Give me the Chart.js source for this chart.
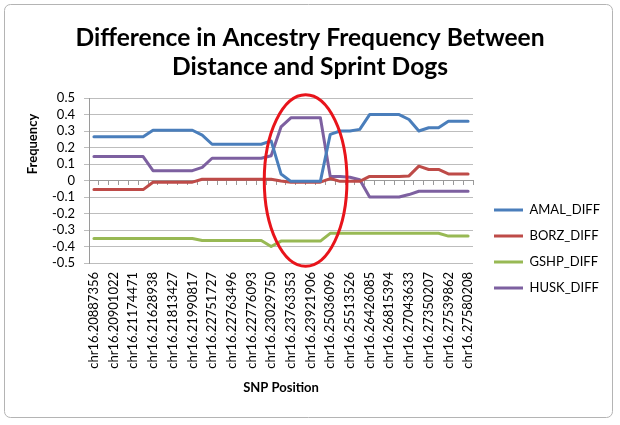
<!DOCTYPE html>
<html>
<head>
<meta charset="utf-8">
<script src="https://cdn.jsdelivr.net/npm/chart.js@4.4.1/dist/chart.umd.min.js"></script>
<style>
  html, body { margin: 0; padding: 0; background: #ffffff; }
  #wrap { width: 620px; height: 425px; position: relative; }
</style>
</head>
<body>
<div id="wrap"><canvas id="chart" width="620" height="425"></canvas></div>
<script>
// ---- data ----
const tickLabels = [
  'chr16.20887356', 'chr16.20901022', 'chr16.21174471', 'chr16.21628938',
  'chr16.21813427', 'chr16.21990817', 'chr16.22751727', 'chr16.22763496',
  'chr16.22776093', 'chr16.23029750', 'chr16.23763353', 'chr16.23921906',
  'chr16.25036096', 'chr16.25513526', 'chr16.26426085', 'chr16.26815394',
  'chr16.27043633', 'chr16.27350207', 'chr16.27539862', 'chr16.27580208'
];
// 39 SNP positions; only every other one is labelled in the source chart
const categories = [];
for (let i = 0; i < 39; i++) categories.push(i % 2 === 0 ? tickLabels[i / 2] : '');

const seriesNames = ['AMAL_DIFF', 'BORZ_DIFF', 'GSHP_DIFF', 'HUSK_DIFF'];

const amalDiff = [
  0.265, 0.265, 0.265, 0.265, 0.265, 0.265,
  0.305, 0.305, 0.305, 0.305, 0.305,
  0.275,
  0.22, 0.22, 0.22, 0.22, 0.22, 0.22,
  0.24, 0.04,
  -0.005, -0.005, -0.005, -0.005,
  0.28, 0.30, 0.30, 0.31,
  0.40, 0.40, 0.40, 0.40,
  0.37, 0.30, 0.32, 0.32,
  0.36, 0.36, 0.36
];
const borzDiff = [
  -0.055, -0.055, -0.055, -0.055, -0.055, -0.055,
  -0.01, -0.01, -0.01, -0.01, -0.01,
  0.008, 0.008, 0.008, 0.008, 0.008, 0.008, 0.008, 0.008,
  -0.003,
  -0.01, -0.01, -0.01, -0.01,
  0.012, -0.005, -0.005, -0.005,
  0.025, 0.025, 0.025, 0.025, 0.028,
  0.087, 0.067, 0.067,
  0.04, 0.04, 0.04
];
const gshpDiff = [
  -0.352, -0.352, -0.352, -0.352, -0.352, -0.352, -0.352, -0.352, -0.352, -0.352, -0.352,
  -0.364, -0.364, -0.364, -0.364, -0.364, -0.364, -0.364,
  -0.40,
  -0.367, -0.367, -0.367, -0.367, -0.367,
  -0.32, -0.32, -0.32, -0.32, -0.32, -0.32, -0.32, -0.32, -0.32, -0.32, -0.32, -0.32,
  -0.337, -0.337, -0.337
];
const huskDiff = [
  0.145, 0.145, 0.145, 0.145, 0.145, 0.145,
  0.06, 0.06, 0.06, 0.06, 0.06,
  0.08,
  0.135, 0.135, 0.135, 0.135, 0.135, 0.135,
  0.15, 0.325,
  0.38, 0.38, 0.38, 0.38,
  0.025, 0.025, 0.02, 0.005,
  -0.10, -0.10, -0.10, -0.10,
  -0.085,
  -0.065, -0.065, -0.065, -0.065, -0.065, -0.065
];
const yTicks = { min: -0.5, max: 0.5, step: 0.1 };

// highlighted region (hand-drawn red ellipse), in data units
const highlight = { centerIndex: 21.5, centerValue: 0.0, halfWidthIndex: 4.2, halfHeightValue: 0.52 };

// ---- styles ----
const FONT = 'Lato, "Open Sans", "DejaVu Sans", sans-serif';
const GRID = '#bdbdbd';
const AXIS = '#9a9a9a';
const colors = ['#4A7EBB', '#BE4B48', '#98B954', '#7D60A0'];
const PLOT_LEFT = 89, PLOT_RIGHT = 473, PLOT_BOTTOM = 263;
const Y_TITLE = { text: 'Frequency', x: 33, y: 144 };

const frame = {
  id: 'frame',
  beforeDraw(chart) {
    const c = chart.ctx;
    c.save();
    c.fillStyle = '#ffffff';
    c.fillRect(0, 0, chart.width, chart.height);
    c.strokeStyle = '#b4b4b4';
    c.lineWidth = 1;
    c.beginPath();
    if (c.roundRect) c.roundRect(4.5, 4.5, 608, 413, 6); else c.rect(4.5, 4.5, 608, 413);
    c.stroke();
    c.restore();
  },
  afterDraw(chart) {
    const c = chart.ctx;
    c.save();
    c.translate(Y_TITLE.x, Y_TITLE.y);
    c.rotate(-Math.PI / 2);
    c.fillStyle = '#000000';
    c.font = 'bold 13px ' + FONT;
    c.textAlign = 'center';
    c.textBaseline = 'middle';
    c.fillText(Y_TITLE.text, 0, 0);
    c.restore();
  }
};

const legendPlacement = {
  id: 'legendPlacement',
  afterInit(chart) {
    const lg = chart.legend;
    const fit = lg.fit.bind(lg);
    lg.fit = function () { fit(); this.width = chart.width - PLOT_RIGHT; };
  },
  afterLayout(chart) {
    const lg = chart.legend;
    lg.left += 8;
    lg.top = 190.5;
    lg.bottom = chart.height;
  }
};

const ellipse = {
  id: 'ellipse',
  afterDatasetsDraw(chart) {
    const xs = chart.scales.x, ys = chart.scales.y, c = chart.ctx;
    const cx = xs.getPixelForValue(highlight.centerIndex);
    const cy = ys.getPixelForValue(highlight.centerValue);
    const rx = xs.getPixelForValue(highlight.centerIndex + highlight.halfWidthIndex) - cx;
    const ry = cy - ys.getPixelForValue(highlight.centerValue + highlight.halfHeightValue);
    c.save();
    c.strokeStyle = '#e8141b';
    c.lineWidth = 3;
    c.beginPath();
    c.ellipse(cx, cy, rx, ry, 0, 0, Math.PI * 2);
    c.stroke();
    c.restore();
  }
};

const seriesData = [amalDiff, borzDiff, gshpDiff, huskDiff];

new Chart(document.getElementById('chart'), {
  type: 'line',
  data: {
    labels: categories,
    datasets: seriesNames.map((name, k) => ({
      label: name,
      data: seriesData[k],
      borderColor: colors[k],
      backgroundColor: colors[k],
      borderWidth: 3,
      pointRadius: 0,
      pointHoverRadius: 0,
      pointStyle: 'line',
      tension: 0,
      fill: false,
      borderJoinStyle: 'round',
      borderCapStyle: 'round',
      xAxisID: 'x',
      yAxisID: 'y'
    }))
  },
  options: {
    responsive: false,
    animation: false,
    devicePixelRatio: 1,
    layout: { padding: 0 },
    plugins: {
      title: {
        display: true,
        text: ['Difference in Ancestry Frequency Between', 'Distance and Sprint Dogs'],
        color: '#000000',
        font: { family: FONT, size: 24.6, weight: 'bold', lineHeight: 1.18 },
        padding: { top: 23.5, bottom: 16.5 }
      },
      legend: {
        display: true,
        position: 'right',
        align: 'start',
        labels: {
          usePointStyle: true,
          pointStyleWidth: 29,
          padding: 13,
          color: '#000000',
          font: { family: FONT, size: 13 }
        }
      },
      tooltip: { enabled: false }
    },
    scales: {
      x: {
        type: 'category',
        position: 'bottom',
        offset: true,
        grid: { display: false, drawTicks: false },
        border: { display: false },
        ticks: {
          autoSkip: false, maxRotation: 90, minRotation: 90, padding: 9,
          color: '#000000', font: { family: FONT, size: 13 }
        },
        title: {
          display: true, text: 'SNP Position', color: '#000000',
          font: { family: FONT, size: 13, weight: 'bold' },
          padding: { top: 0, bottom: 29.2 }
        },
        afterFit(s) { s.height = 425 - PLOT_BOTTOM; }
      },
      xZero: {
        type: 'category',
        position: { y: 0 },
        offset: true,
        grid: { display: true, drawOnChartArea: false, drawTicks: true, tickLength: 4, offset: true, color: AXIS },
        border: { display: true, color: AXIS, width: 1 },
        ticks: { display: false }
      },
      y: {
        type: 'linear',
        position: 'left',
        min: yTicks.min,
        max: yTicks.max,
        ticks: {
          stepSize: yTicks.step,
          autoSkip: false,
          padding: 9,
          color: '#000000',
          font: { family: FONT, size: 13 },
          callback: v => { const r = Math.round(v * 10) / 10; return r === 0 ? '0' : String(r); }
        },
        grid: { color: GRID, drawTicks: true, tickLength: 5 },
        border: { display: true, color: AXIS },
        title: { display: false },
        afterFit(s) { s.width = PLOT_LEFT; }
      }
    }
  },
  plugins: [frame, legendPlacement, ellipse]
});
</script>
</body>
</html>
